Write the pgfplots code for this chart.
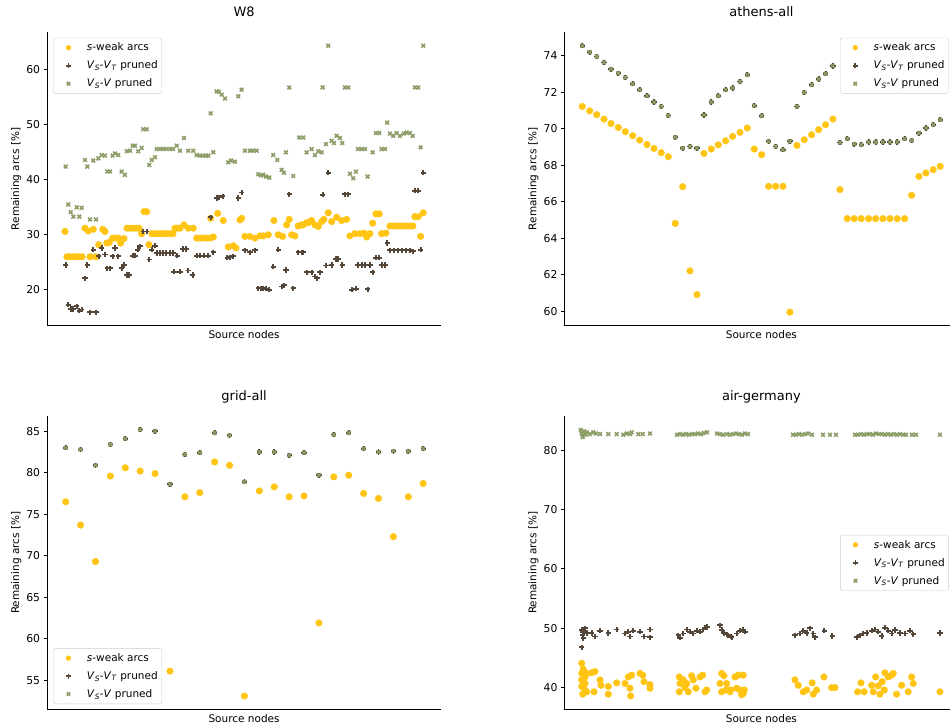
\documentclass[border=0pt]{standalone}
\usepackage{fontspec}
\setmainfont{DejaVu Sans}
\usepackage{pgfplots}
\pgfplotsset{compat=1.18}

\definecolor{cweak}{HTML}{FFC414}
\definecolor{cvt}{HTML}{55463A}
\definecolor{cvv}{HTML}{8C9D68}

\newcommand{\lweak}{\textit{s}-weak arcs}
\newcommand{\lvt}{\textit{V}\textsubscript{\textit{S}}-\textit{V}\textsubscript{\textit{T}} pruned}
\newcommand{\lvv}{\textit{V}\textsubscript{\textit{S}}-\textit{V} pruned}

\pgfplotsset{
  panel/.style={
    scale only axis, width=394pt, height=293pt,
    axis x line*=bottom, axis y line*=left,
    axis line style={-, line width=0.8pt},
    xtick=\empty,
    tick align=outside, major tick length=3.5pt,
    tick style={black, line width=0.8pt},
    /pgf/number format/assume math mode=true,
    ticklabel style={font=\fontsize{10.8}{12}\selectfont},
    xlabel={Source nodes}, ylabel={Remaining arcs [\%]},
    every axis x label/.style={at={(axis description cs:0.5,0)}, anchor=base, yshift=-13.5pt, font=\fontsize{10.5}{12}\selectfont},
    every axis y label/.style={at={(axis description cs:0,0.5)}, rotate=90, anchor=base, yshift=28pt, font=\fontsize{10.5}{12}\selectfont},
    every axis title/.style={at={(axis description cs:0.5,1)}, anchor=base, yshift=15.5pt, font=\fontsize{13}{15}\selectfont},
    clip=false,
    legend cell align=left,
    legend image post style={mark size=2.4pt},
    legend style={draw=black!20, rounded corners=2pt, fill=white,
      font=\fontsize{10.5}{12}\selectfont, inner xsep=2pt, inner ysep=3pt, row sep=4.5pt},
  },
  lgimg/.style={legend image code/.code={\path[draw=none,fill=none] (0pt,-3pt) -- (29.5pt,3pt);
      \draw[mark repeat=2,mark phase=2,##1] plot coordinates {(0pt,0pt) (13pt,0pt) (29.5pt,0pt)};}},
  sweak/.style={only marks, lgimg, mark=*, mark size=3.3pt, color=cweak},
  svt/.style={only marks, lgimg, mark=+, mark size=2.6pt, color=cvt, mark options={line width=1.8pt}},
  svv/.style={only marks, lgimg, mark=x, mark size=2.6pt, color=cvv, mark options={line width=1.6pt}},
}

\begin{document}
\begin{tikzpicture}
\useasboundingbox (0,0) rectangle (950pt,725pt);

% ---------------- W8
\begin{axis}[panel, at={(47.1pt,399.5pt)}, anchor=south west,
  xmin=47.1, xmax=441.2, ymin=13.5, ymax=66.8, ytick={20,30,40,50,60},
  title={W8},
  legend style={at={(axis description cs:0.0157,0.982)}, anchor=north west}]
\addplot[sweak] coordinates {
(65,30.6) (67,26.0) (70,26.0) (73,26.0) (76,26.0) (79,26.0) (82,26.0) (85,31.2) (88.3,30.7) (90,26.0)
(93.3,31.0) (96,26.0) (98.7,28.2) (102.7,31.0) (105,30.6) (106.7,28.5) (109.3,28.6) (112.7,29.4) (116,29.4) (118.3,29.4)
(120.7,28.5) (124,29.3) (127,31.2) (130,31.2) (133,31.2) (136,31.2) (139,31.2) (141.7,30.2) (144,34.2) (146.7,34.2)
(149,28.2) (152,30.2) (155,30.2) (158,30.2) (161,30.2) (164,30.2) (167,30.2) (170,30.2) (173,30.2) (175,31.2)
(177,31.2) (180,31.2) (184,31.8) (188.3,31.2) (193.3,31.2) (196.7,29.4) (200,29.4) (203,29.4) (207,29.4) (210,29.4)
(210.7,33.0) (213.3,29.6) (217.7,33.9) (223.3,32.6) (228.3,27.8) (233.3,28.0) (236,27.6) (240,32.7) (241.7,33.0) (245,29.7)
(250,29.7) (255,29.4) (260,29.8) (263.3,29.8) (268.3,30.0) (274,32.6) (278.3,30.0) (282.7,29.7) (286.7,31.8) (289.3,32.8)
(291.7,30.0) (295,29.8) (298.3,31.6) (301.7,31.8) (303.3,31.8) (306.7,32.2) (308.3,32.2) (311.7,32.6) (315,31.8) (318.3,31.5)
(321.7,32.4) (324,32.8) (328.3,34.0) (331.7,32.4) (336.7,33.2) (341.7,32.6) (346.7,32.8) (350,29.8) (355,30.2) (360,30.2)
(364,30.3) (366.7,29.6) (370,30.2) (372.7,32.1) (376,33.8) (379.3,33.8) (381.7,30.2) (386,30.3) (390,31.6) (393,31.6)
(397,31.6) (400,31.6) (403,31.6) (407,31.6) (410,31.6) (413,31.6) (415,33.3) (418.3,33.3) (420.7,29.7) (423.3,34.0)
};
\addlegendentry{\lweak}
\addplot[svt] coordinates {
(65.7,24.5) (68.3,17.3) (70.7,16.5) (73.3,16.5) (76.7,17.0) (79.3,16.2) (81.7,16.4) (85,22.1) (87.3,24.5) (90,15.9)
(96,15.9) (93.3,27.3) (98.7,26.1) (101.7,27.6) (105,26.4) (107.3,23.9) (110,23.9) (112.7,26.1) (115,27.6) (118.3,26.1)
(121.7,23.9) (124,24.5) (126.7,22.7) (129.3,22.7) (132.7,26.2) (135,26.2) (137.7,27.3) (140,27.9) (143.3,30.6) (146.7,30.6)
(149.3,25.5) (151.7,27.3) (155,28.0) (156.7,26.7) (160,26.7) (163,26.7) (166,26.7) (170,26.7) (173,26.7) (177.3,26.2)
(174,23.3) (180,23.3) (182.7,27.4) (186,27.4) (188.3,23.5) (192.7,22.7) (196.7,26.2) (200,26.2) (204,26.2) (208,26.2)
(210.7,33.2) (213.3,26.8) (216.7,36.7) (219,36.8) (222.7,37.0) (227.3,25.8) (230,25.9) (233.3,26.1) (238.3,36.7) (241.7,37.7)
(245,27.2) (250,26.8) (255,27.2) (258.3,20.3) (261,20.3) (263.3,20.3) (266,20.2) (269.3,20.0) (273.3,24.2) (278.3,27.3)
(281.7,20.6) (284,20.8) (286,23.6) (289.3,37.4) (293.3,20.3) (298.3,26.8) (301.7,26.8) (303.3,26.8) (306.7,23.2) (311.7,23.2)
(315,22.4) (317.3,22.1) (320,23.2) (322.7,37.3) (326,24.4) (328.3,41.3) (331.7,24.5) (336,25.6) (338.3,25.6) (342.3,24.5)
(345,37.4) (348.3,37.4) (351.7,20.0) (356,20.2) (358,24.5) (361.7,24.5) (365,24.5) (367.7,20.1) (370,24.5) (372.7,23.2)
(376,25.8) (379.3,25.8) (381.7,24.5) (385,24.5) (387.3,28.5) (390,27.2) (394,27.2) (398,27.2) (402,27.2) (406,27.2)
(410,27.2) (413.3,27.0) (415,38.0) (418.3,38.0) (420.7,27.3) (423.3,41.3)
};
\addlegendentry{\lvt}
\addplot[svv] coordinates {
(65.7,42.4) (68.3,35.5) (70.7,34.1) (73.3,33.3) (76.7,35.0) (79.3,33.3) (81.7,34.9) (85,43.6) (87.3,42.4) (90,32.8)
(96,32.8) (93.3,43.5) (98.3,43.9) (101.7,44.5) (105,44.4) (107.3,41.5) (110,41.5) (112.7,44.4) (115,44.8) (118.3,44.5)
(121.7,41.5) (125,40.9) (126.7,45.2) (130,45.3) (132.7,46.2) (135,46.2) (138.3,45.2) (141.7,45.8) (143.3,49.2) (146.7,49.2)
(149.3,42.7) (151.7,43.6) (155,44.1) (156.7,45.6) (160,45.6) (163,45.6) (166,45.6) (170,45.6) (173,45.6) (176.7,46.2)
(180,45.3) (184,47.6) (188.3,45.3) (193.3,45.3) (196.7,44.5) (200,44.4) (203,44.4) (206,44.4) (208.3,44.4) (210.7,52.1)
(213.3,45.0) (216.7,56.1) (219,56.0) (221.7,55.5) (225,54.8) (228.3,43.2) (231,43.5) (235,43.3) (238.3,55.2) (241.7,56.4)
(245,45.3) (250,45.3) (253,45.3) (256.7,45.3) (258.3,41.0) (261,40.8) (263.3,40.9) (266,40.6) (269.3,40.4) (273.3,44.5)
(277.3,43.6) (281.7,41.8) (284,41.3) (286,45.0) (289.3,56.8) (293.3,40.7) (299.3,47.7) (303.3,47.7) (306.7,45.0) (311.7,45.6)
(315,44.5) (318.3,45.2) (321.7,45.0) (322.7,56.8) (326,46.5) (328.3,64.4) (331.7,47.1) (334,46.7) (336.7,48.0) (340,47.6)
(342.3,46.7) (345,56.8) (348.3,56.8) (350,41.1) (353.3,40.3) (356,41.5) (358,45.6) (361.7,45.6) (365,45.6) (367.7,40.6)
(372.7,45.0) (376,48.5) (379.3,48.5) (381.7,45.6) (385,45.6) (387.3,50.4) (390,48.4) (393.3,48.0) (396.7,48.5) (400,48.0)
(404,48.4) (406.7,48.6) (410,48.5) (412.7,48.0) (415,56.8) (418.3,56.8) (420.7,45.9) (423.3,64.4)
};
\addlegendentry{\lvv}
\end{axis}

% ---------------- athens-all
\pgfplotstableread{
x y g
582.3 71.21 74.53
589.7 70.97 74.18
596.7 70.76 73.95
604.0 70.52 73.62
611.0 70.28 73.25
618.3 70.06 73.03
625.3 69.83 72.80
632.7 69.61 72.45
639.7 69.37 72.12
647.0 69.13 71.79
654.0 68.91 71.45
661.3 68.68 71.21
668.3 68.46 70.72
675.3 64.81 69.52
682.7 66.82 68.93
690.0 62.21 69.02
697.0 60.91 68.93
704.0 68.64 70.74
711.3 68.88 71.45
718.3 69.11 71.79
725.7 69.33 72.12
732.7 69.57 72.22
740.0 69.79 72.58
747.3 70.03 72.94
754.3 68.88 71.25
761.7 68.57 70.70
768.7 66.84 69.30
775.7 66.84 69.02
783.0 66.84 68.84
790.0 59.95 69.30
797.0 69.08 71.21
804.3 69.39 71.98
811.7 69.66 72.40
818.7 69.94 72.71
825.7 70.21 73.00
833.0 70.52 73.43
840.0 66.66 69.24
847.3 65.07 69.44
854.3 65.07 69.15
861.3 65.07 69.11
868.7 65.07 69.26
875.7 65.07 69.26
883.0 65.07 69.26
890.0 65.07 69.26
897.3 65.07 69.26
904.7 65.07 69.44
911.7 66.35 69.35
919.0 67.38 69.75
926.0 67.57 70.03
933.3 67.75 70.21
940.3 67.93 70.48
}\athens
\begin{axis}[panel, at={(564.4pt,399.5pt)}, anchor=south west,
  xmin=564.4, xmax=958.5, ymin=59.22, ymax=75.26, ytick={60,62,64,66,68,70,72,74},
  title={athens-all},
  legend style={at={(axis description cs:0.6995,0.982)}, anchor=north west}]
\addplot[sweak] table[x=x,y=y] {\athens};
\addlegendentry{\lweak}
\addplot[svt] table[x=x,y=g] {\athens};
\addlegendentry{\lvt}
\addplot[svv] table[x=x,y=g] {\athens};
\addlegendentry{\lvv}
\end{axis}

% ---------------- grid-all
\pgfplotstableread{
x y g
65.7 76.5 83.0
80.6 73.7 82.8
95.5 69.3 80.9
110.4 79.6 83.4
125.3 80.6 84.1
140.2 80.2 85.2
155.1 79.9 85.0
170.0 56.1 78.6
184.9 77.1 82.2
199.8 77.6 82.4
214.7 81.3 84.8
229.6 80.9 84.5
244.5 53.1 78.9
259.4 77.8 82.5
274.3 78.3 82.5
289.2 77.1 82.1
304.1 77.2 82.4
319.0 61.9 79.7
333.9 79.5 84.6
348.8 79.7 84.8
363.7 77.5 82.9
378.6 76.9 82.5
393.5 72.3 82.6
408.4 77.1 82.6
423.3 78.7 82.9
}\grid
\begin{axis}[panel, at={(47.1pt,15.7pt)}, anchor=south west,
  xmin=47.1, xmax=441.2, ymin=51.5, ymax=86.8, ytick={55,60,65,70,75,80,85},
  title={grid-all},
  legend style={at={(axis description cs:0.0157,0.018)}, anchor=south west}]
\addplot[sweak] table[x=x,y=y] {\grid};
\addlegendentry{\lweak}
\addplot[svt] table[x=x,y=g] {\grid};
\addlegendentry{\lvt}
\addplot[svv] table[x=x,y=g] {\grid};
\addlegendentry{\lvv}
\end{axis}

% ---------------- air-germany
\begin{axis}[panel, at={(564.4pt,15.7pt)}, anchor=south west,
  xmin=564.4, xmax=958.5, ymin=36.35, ymax=85.7, ytick={40,50,60,70,80},
  title={air-germany},
  legend style={at={(axis description cs:0.7,0.5)}, anchor=west}]
\addplot[sweak] coordinates {
(581.7,44.1) (583.3,43.1) (581.7,42.4) (585,41.8) (581.7,41.3) (585,40.7) (581.7,40.2) (585,39.6) (582.7,38.9) (586.7,39.3)
(583.3,41.0) (586.7,42.4) (591.7,42.5) (595,42.7) (594,39.3) (600,41.3) (601,40.4) (608.3,40.2) (608.3,38.9) (616.7,40.8)
(625,40.7) (628.3,41.8) (630,39.9) (630.7,38.6) (631.7,42.1) (640,42.4) (642.7,42.1) (644,41.0) (650,40.5) (650,39.9)
(679.3,41.8) (680,40.7) (679.3,39.3) (683.3,41.3) (685,40.0) (686.7,40.7) (688.3,39.3) (691.7,42.0) (693.3,41.3) (696,39.9)
(700,41.8) (702.7,42.1) (705,39.3) (706.7,39.6) (720,40.7) (721.7,42.4) (724,42.0) (721.7,39.3) (726,39.6) (726.7,40.7)
(728.3,39.6) (730,39.3) (730.7,39.6) (735,41.8) (736.7,39.9) (738.3,42.1) (740,39.6) (741.7,38.8) (743.3,42.1) (743.3,39.0)
(744.3,39.6) (795,41.3) (798.3,40.4) (803.3,39.3) (806.7,39.6) (812.3,40.8) (813.3,38.9) (816.7,39.6) (824,41.8) (831.7,40.0)
(835,40.0) (857.7,39.3) (861,40.8) (864.3,39.3) (871.7,40.4) (873.3,39.3) (875.7,41.8) (878.3,40.3) (880,38.9) (882.3,41.0)
(884.3,39.6) (885,42.5) (888.3,41.8) (891.7,42.1) (893.3,42.4) (896.7,38.9) (901.7,40.4) (908.3,39.3) (911.7,41.8) (913.3,40.7)
(940,39.3)
};
\addlegendentry{\lweak}
\addplot[svt] coordinates {
(581.7,49.7) (582.7,48.8) (583.3,48.3) (585,50.0) (586.7,49.2) (581.7,46.8) (583,49.4) (591.7,49.2) (595,48.6) (600,49.6)
(608.3,49.2) (616.7,49.8) (625,49.1) (628.3,49.4) (630,48.6) (633.3,49.6) (640,49.4) (644,48.6) (650,49.8) (650,48.5)
(678.3,48.8) (680,48.4) (683.3,49.1) (686.7,49.8) (690,49.4) (693.3,49.1) (696.7,49.6) (700,49.4) (702.7,49.8) (705,50.1)
(707.3,50.2) (720,50.5) (721.7,49.7) (724,49.2) (726.7,49.0) (728.3,48.8) (730.7,48.6) (731.7,48.5) (736.7,49.1) (740,49.6)
(743.3,49.7) (745,49.4) (795,48.8) (800,49.1) (803.3,49.6) (806.7,49.2) (810,50.0) (813.3,49.1) (815,48.5) (824.3,49.6)
(832.3,48.7) (856.7,48.5) (860,48.8) (863.3,49.1) (866.7,49.2) (871.7,49.6) (875,49.8) (878.3,49.4) (881.7,48.7) (885,50.1)
(888.3,49.6) (891.7,49.1) (895,49.7) (900,49.2) (905,49.1) (910,49.6) (913.3,49.0) (940,49.2)
};
\addlegendentry{\lvt}
\addplot[svv] coordinates {
(580.7,83.4) (581.7,82.8) (582.7,82.2) (584,83.2) (585.7,82.6) (586.7,83.0) (583,82.5) (590,82.7) (593.3,83.0) (596,82.8)
(600,82.7) (608.3,82.7) (616.7,82.7) (623.3,82.6) (626.7,82.8) (630,82.7) (631.7,83.0) (638.3,82.7) (642.7,82.7) (650,82.8)
(677,82.6) (680,82.7) (683,82.6) (686,82.7) (689,82.6) (692,82.7) (695,82.7) (698,82.8) (701,82.7) (704,82.9)
(707,83.0) (717,82.8) (720,82.7) (723,82.6) (727,82.7) (730,82.6) (733,82.7) (736,82.8) (739,82.7) (742,82.6)
(745,82.8) (748,82.7) (793,82.6) (796,82.6) (799,82.7) (802,82.6) (805,82.7) (808,82.8) (812,82.6) (823,82.6)
(830,82.6) (836,82.6) (855,82.6) (858,82.6) (861,82.7) (864,82.6) (867,82.7) (870,82.7) (873,82.6) (876,82.8)
(879,82.7) (882,82.7) (885,82.6) (888,82.7) (891,82.6) (894,82.7) (897,82.6) (900,82.7) (903,82.6) (906,82.6)
(912,82.6) (916,82.6) (940,82.6)
};
\addlegendentry{\lvv}
\end{axis}
\end{tikzpicture}
\end{document}
